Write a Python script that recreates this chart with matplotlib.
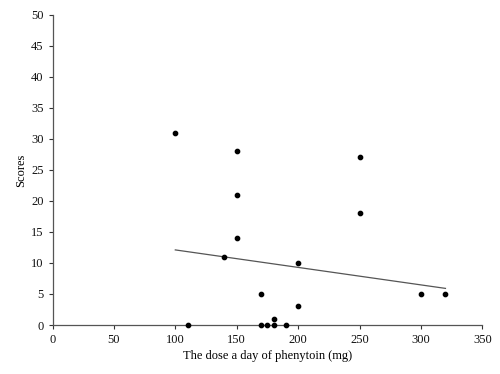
import matplotlib
matplotlib.use('Agg')
import matplotlib.pyplot as plt

# data
dose = [100, 150, 150, 150, 140, 110, 170, 170, 175, 180, 180, 190, 200, 200, 250, 250, 300, 320]
scores = [31, 28, 21, 14, 11, 0, 5, 0, 0, 1, 0, 0, 10, 3, 27, 18, 5, 5]

# trend line end points
trend_x = [100, 320]
trend_y = [12.1, 5.9]

xticks = [0, 50, 100, 150, 200, 250, 300, 350]
yticks = [0, 5, 10, 15, 20, 25, 30, 35, 40, 45, 50]

plt.rcParams['font.family'] = ['Liberation Serif', 'DejaVu Serif']

fig = plt.figure(figsize=(5, 3.74), dpi=100)
ax = fig.add_axes([0.105, 0.131, 0.8596, 0.8297])

ax.plot(trend_x, trend_y, color='#555555', linewidth=0.9, zorder=2)
ax.plot(dose, scores, 'o', color='black', markersize=3.1, clip_on=False, zorder=3)

ax.set_xlim(0, 350)
ax.set_ylim(0, 50)
ax.set_xticks(xticks)
ax.set_yticks(yticks)
ax.tick_params(direction='out', length=3, width=0.8, colors='#333333', labelsize=9, labelcolor='#111111')

for s in ['top', 'right']:
    ax.spines[s].set_visible(False)
for s in ['left', 'bottom']:
    ax.spines[s].set_color('#555555')
    ax.spines[s].set_linewidth(0.9)

ax.set_xlabel('The dose a day of phenytoin (mg)', fontsize=9, labelpad=3)
ax.set_ylabel('Scores', fontsize=9, labelpad=3)

fig.savefig('out.png', dpi=100)
